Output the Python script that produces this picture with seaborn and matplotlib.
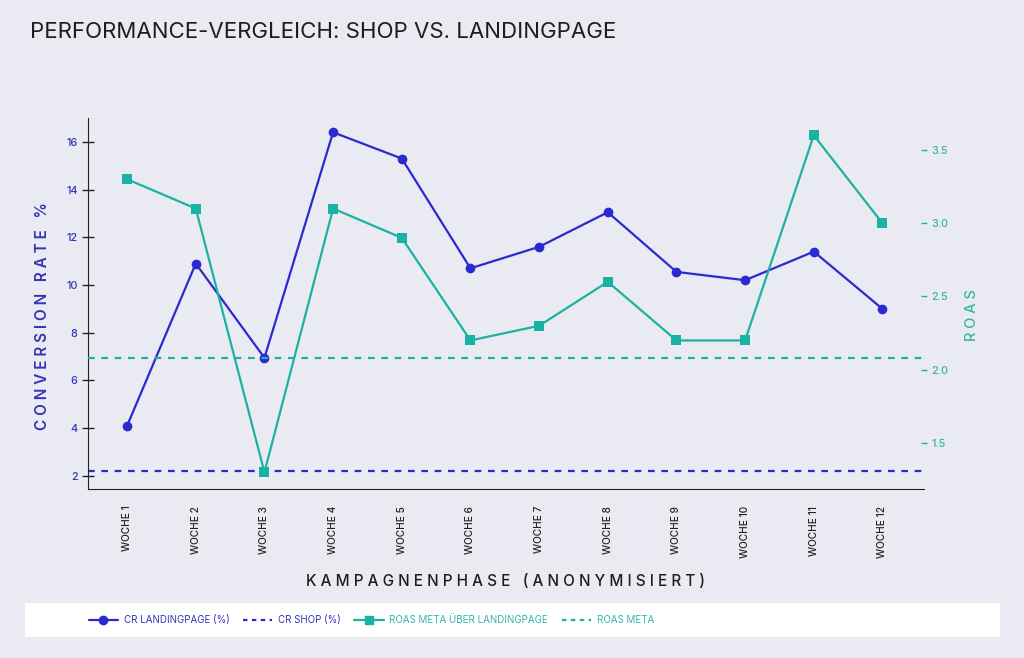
import pandas as pd
import matplotlib.pyplot as plt
import seaborn as sns
from matplotlib.lines import Line2D
from matplotlib.patches import Rectangle

# --- Data ---
weeks = ["WOCHE 1", "WOCHE 2", "WOCHE 3", "WOCHE 4", "WOCHE 5", "WOCHE 6",
         "WOCHE 7", "WOCHE 8", "WOCHE 9", "WOCHE 10", "WOCHE 11", "WOCHE 12"]
cr_landing = [4.1, 10.9, 6.95, 16.4, 15.3, 10.7, 11.6, 13.05, 10.55, 10.2, 11.4, 9.0]
cr_shop = 2.2
roas_landing = [3.3, 3.1, 1.3, 3.1, 2.9, 2.2, 2.3, 2.6, 2.2, 2.2, 3.6, 3.0]
roas_meta = 2.08

df = pd.DataFrame({"week": weeks, "idx": range(len(weeks)),
                   "cr": cr_landing, "roas": roas_landing})

BLUE = "#2a2ad0"
BLUE_TXT = "#3434b8"
TEAL = "#1ab3a3"
TEAL_TXT = "#35b5a5"
BG = "#eaeaf2"

sns.set_style("white")
plt.rcParams["font.family"] = ["Inter", "DejaVu Sans"]

fig = plt.figure(figsize=(10.24, 6.58), dpi=100, facecolor=BG)
ax = fig.add_axes([0.0859, 0.2568, 0.8161, 0.5639])
ax.set_facecolor(BG)
ax2 = ax.twinx()

# --- Lines ---
sns.lineplot(data=df, x="idx", y="cr", ax=ax, color=BLUE, lw=1.6,
             marker="o", markersize=7, markeredgewidth=0)
ax.axhline(cr_shop, color=BLUE, lw=1.6, dashes=(3, 3))

sns.lineplot(data=df, x="idx", y="roas", ax=ax2, color=TEAL, lw=1.6,
             marker="s", markersize=6.5, markeredgewidth=0)
ax2.axhline(roas_meta, color=TEAL, lw=1.6, dashes=(3, 3))

# --- Axes ---
ax.set_xlim(-0.57, 11.6)
ax.set_ylim(1.45, 17.0)
ax2.set_ylim(1.186, 3.718)

ax.set_xticks(df["idx"])
ax.set_xticklabels(weeks, rotation=90, fontsize=7.3, color="#1e1e1e", fontweight="medium")
ax.set_yticks([2, 4, 6, 8, 10, 12, 14, 16])
ax.tick_params(axis="y", colors="#222222", labelcolor=BLUE_TXT, labelsize=7.8,
               direction="inout", length=8, width=1)
for t in ax.get_yticklabels():
    t.set_fontweight("medium")
ax.tick_params(axis="x", colors="#222222", direction="inout", length=8, width=1, pad=8)
ax2.set_yticks([1.5, 2.0, 2.5, 3.0, 3.5])
ax2.set_yticklabels(["1.5", "2.0", "2.5", "3.0", "3.5"], fontweight="medium")
ax2.tick_params(axis="y", colors=TEAL, labelcolor=TEAL_TXT, labelsize=7.8,
                direction="inout", length=4, width=1)

for a in (ax, ax2):
    a.spines["top"].set_visible(False)
    a.spines["right"].set_visible(False)
ax2.spines["left"].set_visible(False)
ax2.spines["bottom"].set_visible(False)
ax.spines["left"].set_color("#222222")
ax.spines["bottom"].set_color("#222222")

ax.set_xlabel("K A M P A G N E N P H A S E   ( A N O N Y M I S I E R T )",
              fontsize=11, color="#1e1e1e", fontweight="medium", labelpad=12)
ax.set_ylabel("C O N V E R S I O N   R A T E   %", fontsize=11,
              color=BLUE_TXT, fontweight="semibold")
ax.yaxis.set_label_coords(-0.046, 0.465)
ax2.set_ylabel("R O A S", fontsize=10.5, color=TEAL_TXT, fontweight="medium")
ax2.yaxis.set_label_coords(1.05, 0.47)

# --- Title ---
fig.text(30 / 1024, 1 - 32 / 658, "PERFORMANCE-VERGLEICH: SHOP VS. LANDINGPAGE",
         fontsize=16, color="#1e1e1e", va="center", ha="left")

# --- Legend box ---
fig.patches.append(Rectangle((25 / 1024, 1 - 637 / 658), 975 / 1024, 34 / 658,
                             transform=fig.transFigure, facecolor="white",
                             edgecolor="none", zorder=0))
handles = [
    Line2D([], [], color=BLUE, lw=1.6, marker="o", markersize=6),
    Line2D([], [], color=BLUE, lw=1.6, dashes=(2, 2)),
    Line2D([], [], color=TEAL, lw=1.6, marker="s", markersize=6),
    Line2D([], [], color=TEAL, lw=1.6, dashes=(2, 2)),
]
labels = ["CR LANDINGPAGE (%)", "CR SHOP (%)", "ROAS META ÜBER LANDINGPAGE", "ROAS META"]
leg = fig.legend(handles, labels, loc="center left",
                 bbox_to_anchor=(80 / 1024, 1 - 620 / 658), ncol=4, frameon=False,
                 fontsize=7, handlelength=3, columnspacing=1.4, handletextpad=0.6)
for t, c in zip(leg.get_texts(), [BLUE_TXT, BLUE_TXT, TEAL_TXT, TEAL_TXT]):
    t.set_color(c)

fig.savefig("out.png", dpi=100, facecolor=BG)
